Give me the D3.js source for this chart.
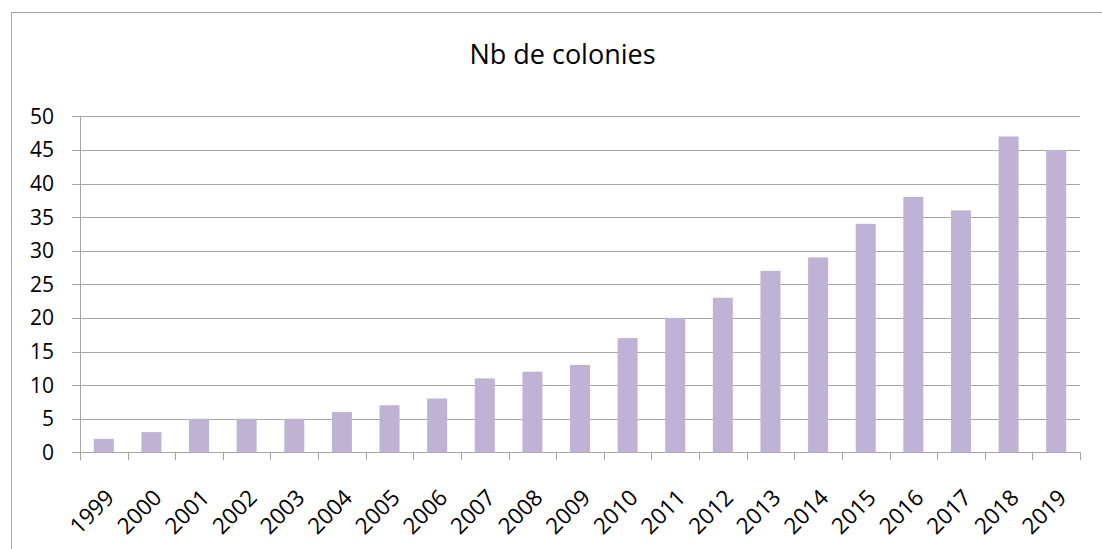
<!DOCTYPE html>
<html><head><meta charset="utf-8">
<script src="https://cdn.jsdelivr.net/npm/d3@7"></script>
<style>body{margin:0;background:#fff}svg{display:block}</style>
</head><body>
<script>
const years = ["1999","2000","2001","2002","2003","2004","2005","2006","2007","2008","2009","2010","2011","2012","2013","2014","2015","2016","2017","2018","2019"];
const colonies = [2,3,5,5,5,6,7,8,11,12,13,17,20,23,27,29,34,38,36,47,45];
const yTicks = [0,5,10,15,20,25,30,35,40,45,50];
const title = "Nb de colonies";

const W = 1102, H = 549;
const m = {left:80, right:22, top:116.3, bottom:96.7};
const svg = d3.select("body").append("svg").attr("width",W).attr("height",H);
svg.append("rect").attr("x",11.5).attr("y",12.5).attr("width",W+10).attr("height",H+10)
  .attr("fill","none").attr("stroke","#a6a6a6");
const x = d3.scaleBand().domain(years).range([m.left, W-m.right]).paddingInner(0.58).paddingOuter(0.29);
const y = d3.scaleLinear().domain([0,50]).range([H-m.bottom, m.top]);
const font = "'Open Sans', 'DejaVu Sans', sans-serif";

// gridlines
svg.append("g").selectAll("line").data(yTicks).join("line")
  .attr("x1",m.left-8).attr("x2",W-m.right).attr("y1",d=>Math.round(y(d))+0.5).attr("y2",d=>Math.round(y(d))+0.5)
  .attr("stroke","#a6a6a6").attr("stroke-width",1);
// bars
svg.append("g").selectAll("rect").data(years).join("rect")
  .attr("x",d=>x(d)).attr("width",x.bandwidth())
  .attr("y",(d,i)=>y(colonies[i])).attr("height",(d,i)=>y(0)-y(colonies[i]))
  .attr("fill","#c0b2d5");
// y axis line
svg.append("line").attr("x1",m.left+0.5).attr("x2",m.left+0.5).attr("y1",m.top).attr("y2",y(0)+8).attr("stroke","#a6a6a6");
// x ticks
const step = x.step();
const tickXs = d3.range(years.length+1).map(i=>m.left + i*step);
svg.append("g").selectAll("line").data(tickXs).join("line")
  .attr("x1",d=>Math.round(d)+0.5).attr("x2",d=>Math.round(d)+0.5).attr("y1",y(0)).attr("y2",y(0)+8).attr("stroke","#a6a6a6");
// y labels
svg.append("g").selectAll("text").data(yTicks).join("text")
  .attr("x",54).attr("y",d=>y(d)).attr("dy","0.36em").attr("text-anchor","end")
  .attr("font-family",font).attr("font-size",21).attr("fill","#000").text(d=>d);
// x labels
svg.append("g").selectAll("text").data(years).join("text")
  .attr("transform",d=>`translate(${x(d)+x.bandwidth()/2+6},${y(0)+41}) rotate(-45)`)
  .attr("text-anchor","end").attr("dy","0.36em")
  .attr("font-family",font).attr("font-size",22.5).attr("fill","#000").text(d=>d);
// title
svg.append("text").attr("x",562.5).attr("y",64).attr("text-anchor","middle")
  .attr("font-family",font).attr("font-size",27).attr("fill","#000").text(title);
</script>
</body></html>
